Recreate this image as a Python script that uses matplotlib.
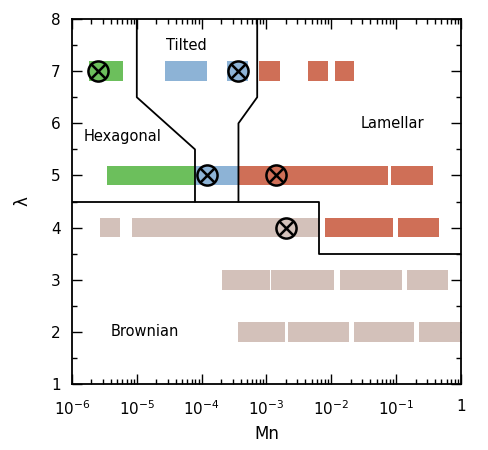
import matplotlib
matplotlib.use('Agg')
import matplotlib.pyplot as plt
from matplotlib.ticker import FixedLocator, LogLocator, NullFormatter, MultipleLocator

# phase segments: row (lambda), start Mn, end Mn
green_y = [7, 5]
green_lo = [1.8e-6, 3.5e-6]
green_hi = [6.1e-6, 7.9e-5]

blue_y = [7, 7, 5]
blue_lo = [2.7e-5, 2.5e-4, 7.9e-5]
blue_hi = [1.2e-4, 5.2e-4, 3.6e-4]

red_y = [7, 7, 7, 5, 5, 4, 4]
red_lo = [7.7e-4, 4.4e-3, 1.15e-2, 3.6e-4, 0.083, 8.0e-3, 0.107]
red_hi = [1.6e-3, 8.9e-3, 2.24e-2, 0.075, 0.37, 0.089, 0.46]

brown_y = [4, 4, 3, 3, 3, 3, 2, 2, 2, 2]
brown_lo = [2.7e-6, 8.4e-6, 2.07e-4, 1.18e-3, 0.0137, 0.148, 3.6e-4, 2.15e-3, 0.0224, 0.226]
brown_hi = [5.5e-6, 6.5e-3, 1.12e-3, 0.011, 0.124, 0.63, 1.94e-3, 0.0186, 0.19, 1.0]

# crossed-circle markers
mark_x = [2.5e-6, 3.6e-4, 1.2e-4, 1.4e-3, 2.0e-3]
mark_y = [7, 7, 5, 5, 4]

# phase boundaries
brown_bx = [1e-6, 6.5e-3, 6.5e-3, 1.0]
brown_by = [4.5, 4.5, 3.5, 3.5]
tilt_left_x = [1e-5, 1e-5, 7.9e-5, 7.9e-5]
tilt_left_y = [8, 6.5, 5.5, 4.5]
tilt_right_x = [7.2e-4, 7.2e-4, 3.7e-4, 3.7e-4]
tilt_right_y = [8, 6.5, 6.0, 4.5]

labels = ['Tilted', 'Hexagonal', 'Lamellar', 'Brownian']
label_x = [5.8e-5, 6.0e-6, 8.9e-2, 1.35e-5]
label_y = [7.5, 5.75, 6.0, 2.0]

xticks = [1e-6, 1e-5, 1e-4, 1e-3, 1e-2, 1e-1, 1]
xticklabels = ['$10^{-6}$', '$10^{-5}$', '$10^{-4}$', '$10^{-3}$', '$10^{-2}$', '$10^{-1}$', '1']

fig = plt.figure(figsize=(4.88, 4.5), dpi=100)
ax = fig.add_axes([0.1475, 0.1467, 0.797, 0.811])

h = 0.38
for ys, lo, hi, col in [(green_y, green_lo, green_hi, '#6cbf5c'),
                        (blue_y, blue_lo, blue_hi, '#8db3d6'),
                        (red_y, red_lo, red_hi, '#cf6f57'),
                        (brown_y, brown_lo, brown_hi, '#d3c1ba')]:
    for y, a, b in zip(ys, lo, hi):
        ax.barh(y, b - a, left=a, height=h, color=col, linewidth=0, zorder=2)

for bx, by in [(brown_bx, brown_by), (tilt_left_x, tilt_left_y), (tilt_right_x, tilt_right_y)]:
    ax.plot(bx, by, color='black', lw=1.3, zorder=3)

ax.plot(mark_x, mark_y, 'o', ms=14.5, mfc='none', mec='black', mew=1.8, zorder=4)
ax.plot(mark_x, mark_y, 'x', ms=10, mec='black', mew=1.8, zorder=4)

for t, x, y in zip(labels, label_x, label_y):
    ax.text(x, y, t, ha='center', va='center', fontsize=10.5, zorder=5)

ax.set_xscale('log')
ax.set_xlim(1e-6, 1)
ax.set_ylim(1, 8)
ax.set_xticks(xticks)
ax.set_xticklabels(xticklabels, fontsize=11)
ax.xaxis.set_minor_locator(LogLocator(base=10, subs=range(2, 10), numticks=20))
ax.xaxis.set_minor_formatter(NullFormatter())
ax.yaxis.set_major_locator(FixedLocator(range(1, 9)))
ax.yaxis.set_minor_locator(MultipleLocator(0.5))
ax.tick_params(axis='y', labelsize=11)
ax.tick_params(which='both', direction='in', top=True, right=True, width=1)
ax.tick_params(which='major', length=7, pad=8)
ax.tick_params(axis='x', which='major', pad=11)
ax.tick_params(which='minor', length=3.5)
for s in ax.spines.values():
    s.set_linewidth(1.3)

ax.set_xlabel('Mn', fontsize=12, labelpad=5)
ax.set_ylabel('λ', fontsize=12, labelpad=14)

fig.savefig('out.png', dpi=100)
